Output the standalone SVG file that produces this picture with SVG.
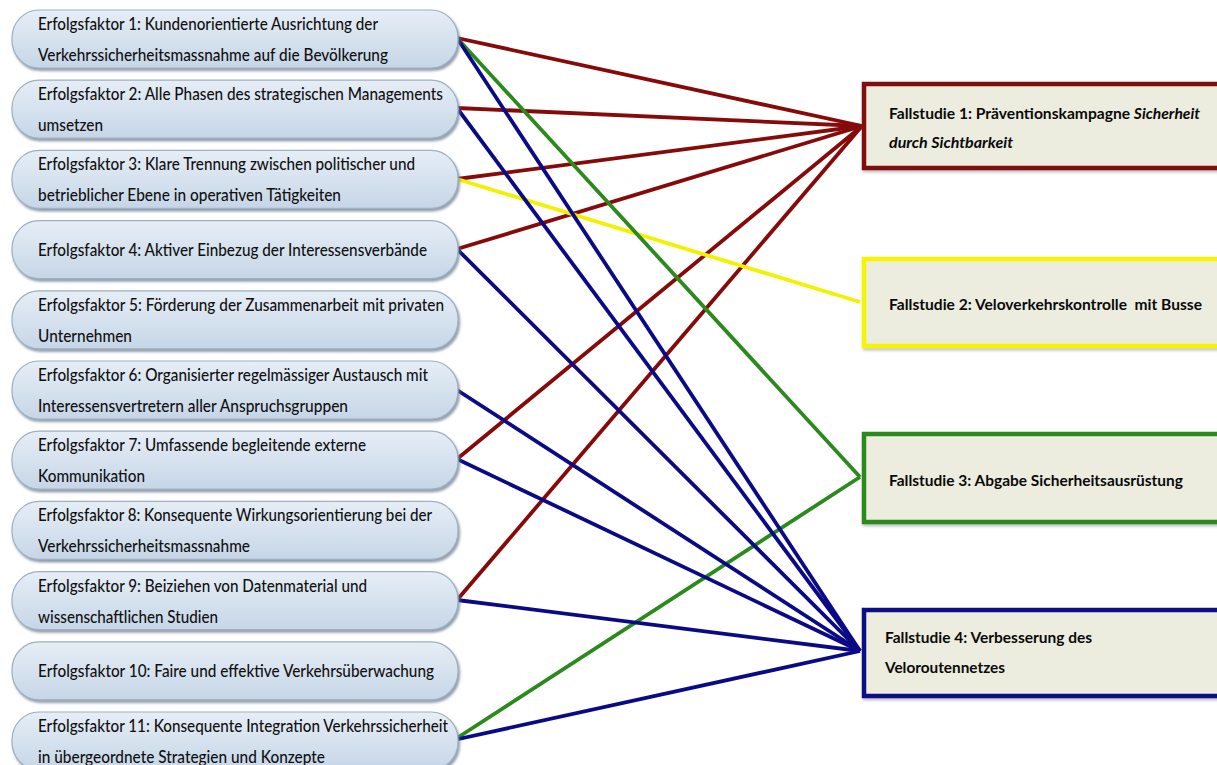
<svg xmlns="http://www.w3.org/2000/svg" width="1217" height="765" viewBox="0 0 1217 765">
<defs>
<linearGradient id="ng" x1="0" y1="0" x2="0" y2="1">
<stop offset="0" stop-color="#e6eef6"/>
<stop offset="1" stop-color="#c6d6e7"/>
</linearGradient>
<filter id="sh" x="-5%" y="-20%" width="110%" height="150%">
<feDropShadow dx="1.5" dy="2.5" stdDeviation="1.2" flood-color="#6d7f92" flood-opacity="0.75"/>
</filter>
<filter id="bs" x="-5%" y="-20%" width="110%" height="150%">
<feDropShadow dx="1" dy="2" stdDeviation="1.5" flood-color="#555" flood-opacity="0.4"/>
</filter>
</defs>
<style>
.node rect{fill:url(#ng);stroke:#9fb0c2;stroke-width:1.2;filter:url(#sh)}
.node text{font-family:Lato,"Liberation Sans",sans-serif;font-size:16.5px;font-weight:500;fill:#111}
.box rect{fill:#ecedde;stroke-width:4.5;filter:url(#bs)}
.box text{font-family:Lato,"Liberation Sans",sans-serif;font-size:15.5px;font-weight:bold;fill:#0a0a0a}
.it{font-style:italic}
.con line{stroke-width:3.8;fill:none}
.r{stroke:#870a0a}
.b{stroke:#0a0a86}
.g{stroke:#2a8a1c}
.y{stroke:#f2f200}
</style>
<rect width="1217" height="765" fill="#ffffff"/>
<g id="connectors" class="con">
<line class="r" x1="457" y1="38" x2="862" y2="126"/>
<line class="r" x1="457" y1="108" x2="862" y2="126"/>
<line class="r" x1="457" y1="179" x2="862" y2="126"/>
<line class="r" x1="457" y1="249" x2="862" y2="126"/>
<line class="r" x1="457" y1="459" x2="862" y2="126"/>
<line class="r" x1="457" y1="600" x2="862" y2="126"/>
<line class="y" x1="457" y1="179" x2="860" y2="302"/>
<line class="g" x1="457" y1="38" x2="860" y2="477"/>
<line class="g" x1="454" y1="740" x2="860" y2="477"/>
<line class="b" x1="457" y1="38" x2="860" y2="651"/>
<line class="b" x1="457" y1="108" x2="860" y2="651"/>
<line class="b" x1="457" y1="249" x2="860" y2="651"/>
<line class="b" x1="457" y1="390" x2="860" y2="651"/>
<line class="b" x1="457" y1="459" x2="860" y2="651"/>
<line class="b" x1="457" y1="600" x2="860" y2="651"/>
<line class="b" x1="454" y1="740" x2="860" y2="651"/>
</g>
<g id="ef1" class="node"><rect x="12" y="10" width="446" height="58" rx="27" ry="28"/><text x="38" y="30" textLength="340" lengthAdjust="spacingAndGlyphs">Erfolgsfaktor 1: Kundenorientierte Ausrichtung der</text><text x="38" y="61" textLength="350" lengthAdjust="spacingAndGlyphs">Verkehrssicherheitsmassnahme auf die Bevölkerung</text></g>
<g id="ef2" class="node"><rect x="12" y="80.2" width="446" height="58" rx="27" ry="28"/><text x="38" y="100.2" textLength="405" lengthAdjust="spacingAndGlyphs">Erfolgsfaktor 2: Alle Phasen des strategischen Managements</text><text x="38" y="131.2" textLength="65" lengthAdjust="spacingAndGlyphs">umsetzen</text></g>
<g id="ef3" class="node"><rect x="12" y="150.4" width="446" height="58" rx="27" ry="28"/><text x="38" y="170.4" textLength="377" lengthAdjust="spacingAndGlyphs">Erfolgsfaktor 3: Klare Trennung zwischen politischer und</text><text x="38" y="201.4" textLength="303" lengthAdjust="spacingAndGlyphs">betrieblicher Ebene in operativen Tätigkeiten</text></g>
<g id="ef4" class="node"><rect x="12" y="220.6" width="446" height="58" rx="27" ry="28"/><text x="38" y="255.6" textLength="389" lengthAdjust="spacingAndGlyphs">Erfolgsfaktor 4: Aktiver Einbezug der Interessensverbände</text></g>
<g id="ef5" class="node"><rect x="12" y="290.8" width="446" height="58" rx="27" ry="28"/><text x="38" y="310.8" textLength="406" lengthAdjust="spacingAndGlyphs">Erfolgsfaktor 5: Förderung der Zusammenarbeit mit privaten</text><text x="38" y="341.8" textLength="94" lengthAdjust="spacingAndGlyphs">Unternehmen</text></g>
<g id="ef6" class="node"><rect x="12" y="361" width="446" height="58" rx="27" ry="28"/><text x="38" y="381" textLength="390" lengthAdjust="spacingAndGlyphs">Erfolgsfaktor 6: Organisierter regelmässiger Austausch mit</text><text x="38" y="412" textLength="310" lengthAdjust="spacingAndGlyphs">Interessensvertretern aller Anspruchsgruppen</text></g>
<g id="ef7" class="node"><rect x="12" y="431.2" width="446" height="58" rx="27" ry="28"/><text x="38" y="451.2" textLength="328" lengthAdjust="spacingAndGlyphs">Erfolgsfaktor 7: Umfassende begleitende externe</text><text x="38" y="482.2" textLength="107" lengthAdjust="spacingAndGlyphs">Kommunikation</text></g>
<g id="ef8" class="node"><rect x="12" y="501.4" width="446" height="58" rx="27" ry="28"/><text x="38" y="521.4" textLength="394" lengthAdjust="spacingAndGlyphs">Erfolgsfaktor 8: Konsequente Wirkungsorientierung bei der</text><text x="38" y="552.4" textLength="212" lengthAdjust="spacingAndGlyphs">Verkehrssicherheitsmassnahme</text></g>
<g id="ef9" class="node"><rect x="12" y="571.6" width="446" height="58" rx="27" ry="28"/><text x="38" y="591.6" textLength="329" lengthAdjust="spacingAndGlyphs">Erfolgsfaktor 9: Beiziehen von Datenmaterial und</text><text x="38" y="622.6" textLength="180" lengthAdjust="spacingAndGlyphs">wissenschaftlichen Studien</text></g>
<g id="ef10" class="node"><rect x="12" y="641.8" width="446" height="58" rx="27" ry="28"/><text x="38" y="676.8" textLength="396" lengthAdjust="spacingAndGlyphs">Erfolgsfaktor 10: Faire und effektive Verkehrsüberwachung</text></g>
<g id="ef11" class="node"><rect x="12" y="712" width="446" height="58" rx="27" ry="28"/><text x="38" y="732" textLength="410" lengthAdjust="spacingAndGlyphs">Erfolgsfaktor 11: Konsequente Integration Verkehrssicherheit</text><text x="38" y="763" textLength="287" lengthAdjust="spacingAndGlyphs">in übergeordnete Strategien und Konzepte</text></g>
<g id="fs1" class="box"><rect x="864" y="84" width="360" height="84" stroke="#820b0b"/><text x="889" y="119" textLength="311" lengthAdjust="spacingAndGlyphs">Fallstudie 1: Präventionskampagne <tspan class="it">Sicherheit</tspan></text><text x="889" y="148" class="it" textLength="124" lengthAdjust="spacingAndGlyphs">durch Sichtbarkeit</text></g>
<g id="fs2" class="box"><rect x="864" y="259" width="360" height="87" stroke="#f5f500"/><text x="889" y="310" textLength="313" lengthAdjust="spacingAndGlyphs">Fallstudie 2: Veloverkehrskontrolle&#160; mit Busse</text></g>
<g id="fs3" class="box"><rect x="864" y="434" width="360" height="88" stroke="#2a8a1c"/><text x="889" y="486" textLength="294" lengthAdjust="spacingAndGlyphs">Fallstudie 3: Abgabe Sicherheitsausrüstung</text></g>
<g id="fs4" class="box"><rect x="864" y="610" width="360" height="86" stroke="#0a0a86"/><text x="885" y="643" textLength="207" lengthAdjust="spacingAndGlyphs">Fallstudie 4: Verbesserung des</text><text x="885" y="673" textLength="120" lengthAdjust="spacingAndGlyphs">Veloroutennetzes</text></g>
</svg>
